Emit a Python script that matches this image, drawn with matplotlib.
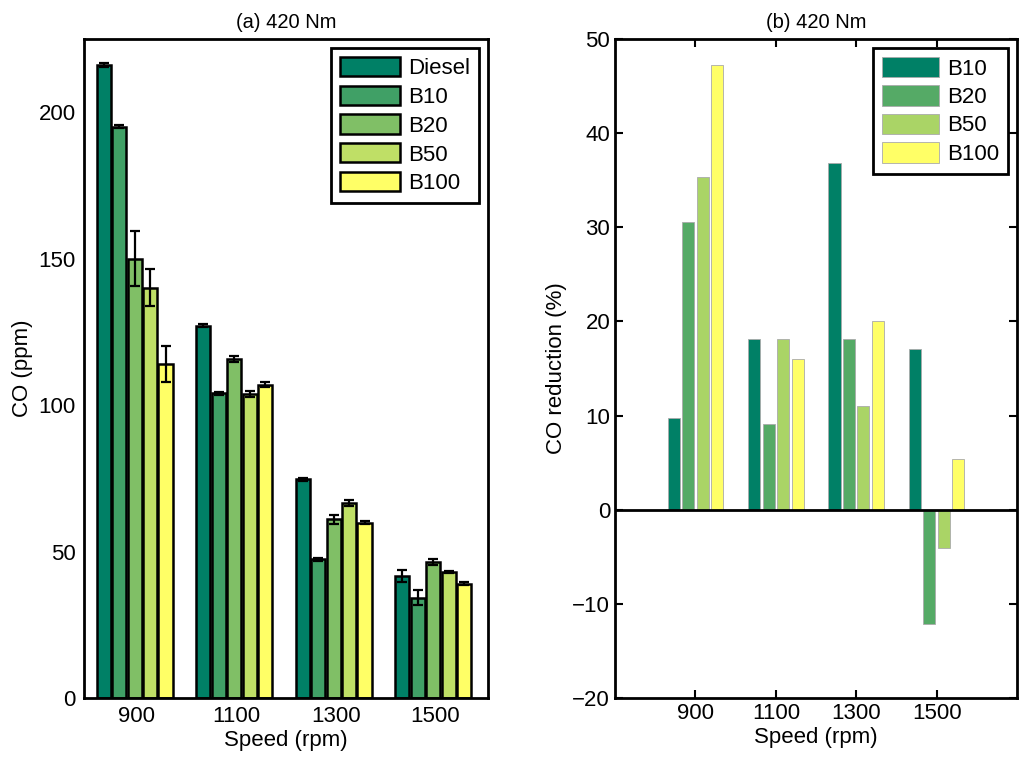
import numpy as np
import matplotlib.pyplot as plt

plt.rcParams['font.family'] = ['Liberation Sans', 'DejaVu Sans']
plt.rcParams['font.size'] = 16

speeds = [900, 1100, 1300, 1500]

# (a) CO emissions in ppm with error bars
fuels_a = ["Diesel", "B10", "B20", "B50", "B100"]
co_diesel = [216, 127, 74.7, 41.6]
co_b10 = [195, 104, 47.4, 34.2]
co_b20 = [150, 115.7, 61, 46.4]
co_b50 = [140, 103.8, 66.5, 43]
co_b100 = [114, 107, 59.8, 39]
err_diesel = [0.6, 0.5, 0.5, 2.0]
err_b10 = [0.5, 0.5, 0.5, 2.5]
err_b20 = [9.5, 1.0, 1.5, 1.0]
err_b50 = [6.3, 1.0, 1.0, 0.5]
err_b100 = [6.3, 1.0, 0.5, 0.5]

# (b) CO reduction in percent relative to diesel
fuels_b = ["B10", "B20", "B50", "B100"]
red_b10 = [9.7, 18.1, 36.8, 17.1]
red_b20 = [30.6, 9.1, 18.1, -12.1]
red_b50 = [35.3, 18.1, 11.0, -4.1]
red_b100 = [47.2, 16.0, 20.0, 5.4]

colors_a = ['#008066', '#40a066', '#80bf66', '#bfdf66', '#ffff66']
colors_b = ['#008066', '#55aa66', '#aad466', '#ffff66']

fig = plt.figure(figsize=(10.24, 7.62), dpi=100)
ax1 = fig.add_axes([0.082, 0.084, 0.3945, 0.865])
ax2 = fig.add_axes([0.6006, 0.084, 0.3926, 0.865])

x = np.array(speeds)
co_all = [co_diesel, co_b10, co_b20, co_b50, co_b100]
err_all = [err_diesel, err_b10, err_b20, err_b50, err_b100]
step_a = 31
for i in range(5):
    pos = x - 4 + (i - 2) * step_a
    ax1.bar(pos, co_all[i], width=28.5, color=colors_a[i], edgecolor='black',
            linewidth=1.8, label=fuels_a[i], zorder=2)
    ax1.errorbar(pos, co_all[i], yerr=err_all[i], fmt='none', ecolor='black',
                 elinewidth=1.6, capsize=3.5, capthick=1.6, zorder=3)

ax1.set_xlim(794, 1606)
ax1.set_ylim(0, 225)
ax1.set_xticks(speeds)
ax1.set_yticks([0, 50, 100, 150, 200])
ax1.set_xlabel("Speed (rpm)", labelpad=2)
ax1.set_ylabel("CO (ppm)", labelpad=4)
ax1.set_title("(a) 420 Nm", fontsize=14.5, pad=8)
leg1 = ax1.legend(loc='upper right', fancybox=False, edgecolor='black',
                  framealpha=1, handlelength=2.7, handleheight=0.95,
                  labelspacing=0.3, borderaxespad=0.4, handletextpad=0.35,
                  borderpad=0.4)
leg1.get_frame().set_linewidth(2)

red_all = [red_b10, red_b20, red_b50, red_b100]
step_b = 36
for i in range(4):
    pos = x + (i - 1.5) * step_b
    ax2.bar(pos, red_all[i], width=30, color=colors_b[i], edgecolor='#aaaaaa',
            linewidth=0.6, label=fuels_b[i], zorder=2)
ax2.axhline(0, color='black', linewidth=2, zorder=3)

ax2.set_xlim(700, 1700)
ax2.set_ylim(-20, 50)
ax2.set_xticks(speeds)
ax2.set_yticks(range(-20, 51, 10))
ax2.set_xlabel("Speed (rpm)", labelpad=2)
ax2.set_ylabel("CO reduction (%)", labelpad=4)
ax2.set_title("(b) 420 Nm", fontsize=14.5, pad=8)
leg2 = ax2.legend(loc='upper right', fancybox=False, edgecolor='black',
                  framealpha=1, handlelength=2.6, handleheight=1.05,
                  labelspacing=0.25, borderaxespad=0.4, handletextpad=0.35,
                  borderpad=0.4)
leg2.get_frame().set_linewidth(2)

for ax in [ax1, ax2]:
    for s in ax.spines.values():
        s.set_linewidth(2)
ax1.tick_params(length=0, pad=6)
ax2.tick_params(direction='in', length=6, width=1.5, top=True, right=True)

fig.savefig("out.png", dpi=100)
